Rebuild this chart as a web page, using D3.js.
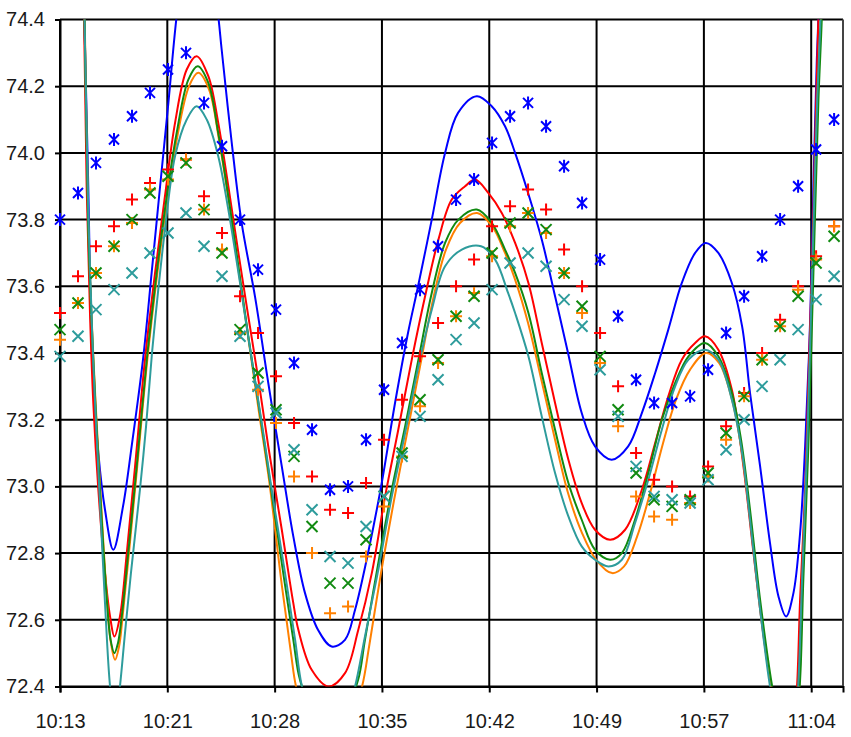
<!DOCTYPE html>
<html lang="en">
<head>
<meta charset="utf-8">
<title>Temperature readings 10:13 - 11:04</title>
<script src="https://d3js.org/d3.v7.min.js"></script>
<style>
  body { margin: 0; background: #fff; }
  svg text { font-family: "Liberation Sans", Arial, sans-serif; font-size: 20px; fill: #1a1a1a; }
  .grid line { stroke: #000; stroke-width: 2px; }
  .fit { fill: none; stroke-width: 2px; }
  .mark { fill: none; stroke-width: 2px; }
</style>
</head>
<body>
<div id="chart"></div>
<script>
// ---- data ----
// readings: one per sample, first one at 10:13:48, 72.47 s apart
var sampleStart = "10:13:48";
var sampleStepSec = 72.47;

var blueReadings = [73.80, 73.88, 73.97, 74.04, 74.11, 74.18, 74.25, 74.30, 74.15, 74.02,
  73.80, 73.65, 73.53, 73.37, 73.17, 72.99, 73.00, 73.14, 73.29, 73.43,
  73.59, 73.72, 73.86, 73.92, 74.03, 74.11, 74.15, 74.08, 73.96, 73.85,
  73.68, 73.51, 73.32, 73.25, 73.25, 73.27, 73.35, 73.46, 73.57, 73.69,
  73.80, 73.90, 74.01, 74.10];
var redReadings = [73.52, 73.63, 73.72, 73.78, 73.86, 73.91, 73.95, 73.98, 73.87, 73.76,
  73.57, 73.46, 73.33, 73.19, 73.03, 72.93, 72.92, 73.01, 73.14, 73.26,
  73.39, 73.49, 73.60, 73.68, 73.78, 73.84, 73.89, 73.83, 73.71, 73.60,
  73.46, 73.30, 73.10, 73.02, 73.00, 72.97, 73.06, 73.18, 73.28, 73.40,
  73.50, 73.60, 73.69, 73.78];
var orangeReadings = [73.44, 73.55, 73.64, 73.72, 73.79, 73.89, 73.92, 73.98, 73.83, 73.71,
  73.46, 73.29, 73.19, 73.03, 72.80, 72.62, 72.64, 72.79, 72.94, 73.09,
  73.24, 73.37, 73.51, 73.58, 73.69, 73.78, 73.82, 73.76, 73.64, 73.52,
  73.37, 73.18, 72.97, 72.91, 72.90, 72.95, 73.03, 73.14, 73.27, 73.38,
  73.48, 73.59, 73.68, 73.78];
var greenReadings = [73.47, 73.55, 73.64, 73.72, 73.80, 73.88, 73.93, 73.97, 73.83, 73.70,
  73.47, 73.34, 73.23, 73.09, 72.88, 72.71, 72.71, 72.84, 72.97, 73.10,
  73.26, 73.38, 73.51, 73.57, 73.70, 73.79, 73.82, 73.77, 73.64, 73.54,
  73.39, 73.23, 73.04, 72.96, 72.94, 72.96, 73.04, 73.16, 73.27, 73.38,
  73.48, 73.57, 73.67, 73.75];
var tealReadings = [73.39, 73.45, 73.53, 73.59, 73.64, 73.70, 73.76, 73.82, 73.72, 73.63,
  73.45, 73.30, 73.22, 73.11, 72.93, 72.79, 72.77, 72.88, 72.97, 73.09,
  73.21, 73.32, 73.44, 73.49, 73.59, 73.67, 73.70, 73.66, 73.56, 73.48,
  73.35, 73.21, 73.06, 72.97, 72.96, 72.95, 73.02, 73.11, 73.20, 73.30,
  73.38, 73.47, 73.56, 73.63];

// fitted curves: position in sample steps after 10:13:48, and value
var blueFitT = [1.11, 1.35, 1.57, 1.79, 2.13, 2.50, 2.96, 3.50, 3.98, 4.61, 5.09, 5.56, 6.02, 6.48,
  7.06, 7.64, 8.22, 8.79, 8.98, 9.54, 10.09, 10.83, 11.57, 12.32, 12.96, 13.61, 14.33, 15.09,
  15.83, 16.39, 17.11, 17.87, 18.61, 19.33, 19.89, 20.65, 21.39, 22.11, 23.15, 23.98, 24.72,
  25.28, 26.00, 26.76, 27.50, 28.22, 28.98, 29.72, 30.65, 31.56, 32.32, 33.06, 33.79, 34.54,
  35.28, 35.87, 36.57, 37.32, 37.89, 38.33, 38.89, 39.44, 39.91, 40.33, 40.74, 41.11, 41.39,
  41.67, 41.85, 42.04, 42.13, 42.22];
var blueFitV = [74.95, 74.41, 73.90, 73.38, 73.10, 72.93, 72.81, 72.94, 73.12, 73.38, 73.64, 73.90, 74.15, 74.41,
  74.64, 74.72, 74.64, 74.41, 74.31, 74.03, 73.79, 73.57, 73.31, 73.06, 72.85, 72.68, 72.57, 72.52,
  72.54, 72.63, 72.80, 73.01, 73.25, 73.46, 73.60, 73.80, 74.00, 74.12, 74.17, 74.14, 74.08,
  74.00, 73.88, 73.74, 73.57, 73.40, 73.22, 73.12, 73.08, 73.12, 73.22, 73.34, 73.47, 73.61,
  73.70, 73.73, 73.70, 73.61, 73.48, 73.28, 73.06, 72.83, 72.67, 72.61, 72.68, 72.86, 73.12,
  73.50, 73.90, 74.28, 74.41, 74.60];

var redFitT = [1.11, 1.33, 1.48, 1.67, 1.85, 2.13, 2.50, 2.78, 3.02, 3.33, 3.71, 4.17, 4.72, 5.28,
  5.83, 6.39, 7.04, 7.59, 8.24, 8.79, 9.35, 9.91, 10.46, 11.02, 11.57, 12.32, 12.96, 13.24,
  13.98, 14.91, 15.83, 16.57, 17.32, 18.06, 18.79, 19.54, 20.28, 21.02, 21.76, 22.50, 23.06,
  23.79, 24.54, 25.28, 26.02, 26.76, 27.50, 28.24, 28.98, 29.72, 30.56, 31.39, 32.32, 33.06,
  33.79, 34.54, 35.28, 35.83, 36.57, 37.32, 37.94, 38.50, 39.06, 39.61, 40.28, 40.78, 40.94,
  41.11, 41.39, 41.57, 41.76, 41.94, 42.13, 42.22];
var redFitV = [74.95, 74.41, 73.90, 73.51, 73.25, 72.99, 72.74, 72.61, 72.55, 72.61, 72.80, 73.06, 73.38, 73.64,
  73.87, 74.09, 74.25, 74.29, 74.23, 74.09, 73.90, 73.70, 73.51, 73.32, 73.12, 72.87, 72.65, 72.57,
  72.45, 72.40, 72.44, 72.57, 72.74, 72.97, 73.17, 73.38, 73.57, 73.74, 73.86, 73.90, 73.92,
  73.88, 73.82, 73.73, 73.61, 73.43, 73.25, 73.08, 72.95, 72.87, 72.84, 72.87, 72.99, 73.13,
  73.27, 73.38, 73.43, 73.45, 73.41, 73.29, 73.07, 72.81, 72.56, 72.37, 72.24, 72.30, 72.40,
  72.66, 72.99, 73.31, 73.64, 74.02, 74.41, 74.60];

var orangeFitT = [1.11, 1.37, 1.58, 1.86, 2.24, 2.61, 2.83, 3.06, 3.28, 3.46, 3.83, 4.29, 4.85, 5.41,
  5.96, 6.52, 7.17, 7.68, 8.28, 8.83, 9.39, 9.94, 10.50, 11.06, 11.61, 12.33, 12.83, 13.11,
  13.89, 14.94, 15.94, 16.78, 17.17, 17.83, 18.56, 19.28, 20.00, 20.72, 21.44, 22.22, 23.17,
  24.00, 24.72, 25.28, 26.00, 26.78, 27.50, 28.22, 29.00, 29.78, 30.67, 31.33, 32.06, 32.78,
  33.50, 34.22, 35.00, 35.89, 36.61, 37.33, 37.83, 38.33, 38.89, 39.50, 39.94, 40.44, 40.83,
  41.06, 41.25, 41.53, 41.81, 42.08, 42.28, 42.39];
var orangeFitV = [74.95, 74.41, 73.77, 73.38, 72.99, 72.66, 72.53, 72.48, 72.52, 72.60, 72.80, 73.06, 73.38, 73.64,
  73.86, 74.05, 74.20, 74.24, 74.19, 74.04, 73.85, 73.64, 73.43, 73.22, 73.02, 72.70, 72.50, 72.40,
  72.26, 72.20, 72.26, 72.40, 72.52, 72.74, 72.96, 73.16, 73.36, 73.56, 73.71, 73.79, 73.82,
  73.78, 73.70, 73.62, 73.49, 73.31, 73.14, 72.98, 72.86, 72.78, 72.74, 72.76, 72.85, 72.98,
  73.13, 73.26, 73.35, 73.40, 73.37, 73.26, 73.12, 72.91, 72.64, 72.40, 72.27, 72.20, 72.26,
  72.40, 72.72, 73.12, 73.64, 74.16, 74.41, 74.60];

var greenFitT = [1.11, 1.36, 1.57, 1.85, 2.22, 2.59, 2.81, 3.02, 3.22, 3.43, 3.79, 4.26, 4.82, 5.37,
  5.93, 6.48, 7.13, 7.65, 8.24, 8.79, 9.35, 9.91, 10.46, 11.02, 11.57, 12.32, 12.96, 13.33,
  13.94, 14.94, 15.94, 16.56, 16.94, 17.68, 18.43, 19.17, 19.91, 20.65, 21.39, 22.13, 23.15,
  23.98, 24.72, 25.28, 26.02, 26.76, 27.50, 28.24, 28.98, 29.72, 30.56, 31.21, 31.94, 32.68,
  33.43, 34.17, 34.91, 35.83, 36.57, 37.32, 37.83, 38.33, 38.89, 39.56, 40.00, 40.50, 40.89,
  41.11, 41.29, 41.57, 41.85, 42.13, 42.32, 42.39];
var greenFitV = [74.95, 74.41, 73.77, 73.38, 72.99, 72.67, 72.54, 72.50, 72.53, 72.61, 72.80, 73.06, 73.38, 73.64,
  73.87, 74.06, 74.22, 74.26, 74.21, 74.06, 73.87, 73.66, 73.45, 73.25, 73.05, 72.77, 72.54, 72.42,
  72.34, 72.30, 72.34, 72.42, 72.54, 72.77, 72.99, 73.18, 73.38, 73.58, 73.73, 73.80, 73.83,
  73.79, 73.71, 73.64, 73.52, 73.34, 73.17, 73.01, 72.90, 72.81, 72.78, 72.80, 72.90, 73.04,
  73.20, 73.31, 73.39, 73.43, 73.39, 73.28, 73.14, 72.93, 72.66, 72.40, 72.28, 72.22, 72.28,
  72.42, 72.72, 73.12, 73.64, 74.16, 74.41, 74.60];

var tealFitT = [1.11, 1.36, 1.58, 1.86, 2.22, 2.50, 2.78, 3.06, 3.33, 3.61, 3.94, 4.44, 4.78, 5.11,
  5.44, 5.83, 6.39, 7.04, 7.59, 8.15, 8.79, 9.35, 10.00, 10.65, 11.21, 11.76, 12.50, 13.06,
  13.44, 14.17, 14.89, 15.67, 16.39, 16.94, 17.68, 18.43, 19.17, 19.91, 20.65, 21.39, 22.32,
  23.39, 24.17, 24.89, 25.28, 26.02, 26.76, 27.50, 28.24, 28.98, 29.72, 30.46, 31.21, 31.94,
  32.68, 33.43, 34.17, 34.91, 35.83, 36.57, 37.32, 37.89, 38.33, 38.89, 39.44, 39.89, 40.39,
  40.78, 41.00, 41.22, 41.50, 41.78, 42.06, 42.25, 42.33];
var tealFitV = [74.95, 74.41, 73.80, 73.36, 72.95, 72.65, 72.40, 72.28, 72.40, 72.56, 72.74, 72.99, 73.18, 73.40,
  73.58, 73.77, 73.99, 74.10, 74.14, 74.10, 73.99, 73.83, 73.61, 73.38, 73.19, 72.99, 72.74, 72.54,
  72.40, 72.27, 72.22, 72.27, 72.40, 72.55, 72.75, 72.97, 73.16, 73.36, 73.53, 73.66, 73.71,
  73.72, 73.68, 73.58, 73.52, 73.39, 73.21, 73.04, 72.91, 72.82, 72.78, 72.76, 72.78, 72.89,
  73.02, 73.17, 73.30, 73.38, 73.41, 73.38, 73.26, 73.10, 72.90, 72.63, 72.40, 72.27, 72.20,
  72.27, 72.40, 72.72, 73.12, 73.64, 74.16, 74.41, 74.60];

// axes
var yTicks = [72.4, 72.6, 72.8, 73.0, 73.2, 73.4, 73.6, 73.8, 74.0, 74.2, 74.4];
var xTickTimes = ["10:13:48", "10:21:00", "10:28:12", "10:35:24", "10:42:36", "10:49:48", "10:57:00", "11:04:12"];
var axisEndTime = "11:06:20";

// ---- chart ----
var width = 851, height = 737;
var plot = {left: 60, top: 19.5, right: 843, bottom: 686.5};

var parseTime = d3.timeParse("%H:%M:%S");
var t0 = parseTime(sampleStart);
function at(steps) { return new Date(+t0 + steps * sampleStepSec * 1000); }

var x = d3.scaleTime()
    .domain([t0, parseTime(axisEndTime)])
    .range([plot.left, plot.right]);
var y = d3.scaleLinear()
    .domain([72.4, 74.4])
    .range([plot.bottom, plot.top]);

var svg = d3.select("#chart").append("svg")
    .attr("width", width)
    .attr("height", height);

svg.append("rect").attr("width", width).attr("height", height).attr("fill", "#fff");

svg.append("clipPath").attr("id", "plotclip")
  .append("rect")
    .attr("x", plot.left).attr("y", plot.top)
    .attr("width", plot.right - plot.left)
    .attr("height", plot.bottom - plot.top);

// grid
var tickDates = xTickTimes.map(parseTime);
var grid = svg.append("g").attr("class", "grid");
grid.selectAll(".h").data(yTicks).enter().append("line")
    .attr("x1", plot.left).attr("x2", plot.right)
    .attr("y1", function(d) { return y(d); })
    .attr("y2", function(d) { return y(d); });
grid.selectAll(".v").data(tickDates).enter().append("line")
    .attr("x1", function(d) { return x(d); })
    .attr("x2", function(d) { return x(d); })
    .attr("y1", plot.top).attr("y2", plot.bottom);
grid.append("line")
    .attr("x1", plot.right).attr("x2", plot.right)
    .attr("y1", plot.top).attr("y2", plot.bottom)
    .style("stroke", "#444");

// axes
var yAxis = svg.append("g")
    .attr("transform", "translate(" + plot.left + ",0)")
    .call(d3.axisLeft(y).tickValues(yTicks).tickFormat(d3.format(".1f")).tickSize(5).tickPadding(10));
var xAxis = svg.append("g")
    .attr("transform", "translate(0," + plot.bottom + ")")
    .call(d3.axisBottom(x).tickValues(tickDates).tickFormat(d3.timeFormat("%H:%M")).tickSize(6).tickPadding(21));
[yAxis, xAxis].forEach(function(g) {
    g.select(".domain").attr("stroke", "#000").attr("stroke-width", 2);
    g.selectAll(".tick line").attr("stroke", "#000").attr("stroke-width", 2);
    g.selectAll("text").attr("font-family", null).attr("font-size", null);
});

// fitted curves
var series = [
    {name: "blue",   color: "#0000ff", t: blueFitT,   v: blueFitV,   r: blueReadings,   mark: "star"},
    {name: "red",    color: "#ff0000", t: redFitT,    v: redFitV,    r: redReadings,    mark: "plus"},
    {name: "orange", color: "#ff8000", t: orangeFitT, v: orangeFitV, r: orangeReadings, mark: "plus"},
    {name: "green",  color: "#118a11", t: greenFitT,  v: greenFitV,  r: greenReadings,  mark: "cross"},
    {name: "teal",   color: "#2e9c9c", t: tealFitT,   v: tealFitV,   r: tealReadings,   mark: "cross"}
];

var line = d3.line()
    .x(function(d) { return x(at(d[0])); })
    .y(function(d) { return y(d[1]); })
    .curve(d3.curveCatmullRom.alpha(0.5));

var curves = svg.append("g").attr("clip-path", "url(#plotclip)");
series.forEach(function(s) {
    curves.append("path")
        .datum(d3.zip(s.t, s.v))
        .attr("class", "fit")
        .attr("stroke", s.color)
        .attr("d", line);
});

// readings
var shapes = {
    star:  "M-5,-5L5,5M-5,5L5,-5M0,-6.5V6.5",
    plus:  "M-6,0H6M0,-6V6",
    cross: "M-5.5,-5.5L5.5,5.5M-5.5,5.5L5.5,-5.5"
};
series.forEach(function(s) {
    svg.append("g").selectAll("path")
        .data(s.r)
        .enter().append("path")
        .attr("class", "mark")
        .attr("stroke", s.color)
        .attr("stroke-width", s.mark == "cross" ? 1.7 : 2)
        .attr("transform", function(d, i) { return "translate(" + x(at(i)) + "," + y(d) + ")"; })
        .attr("d", shapes[s.mark]);
});
</script>
</body>
</html>
